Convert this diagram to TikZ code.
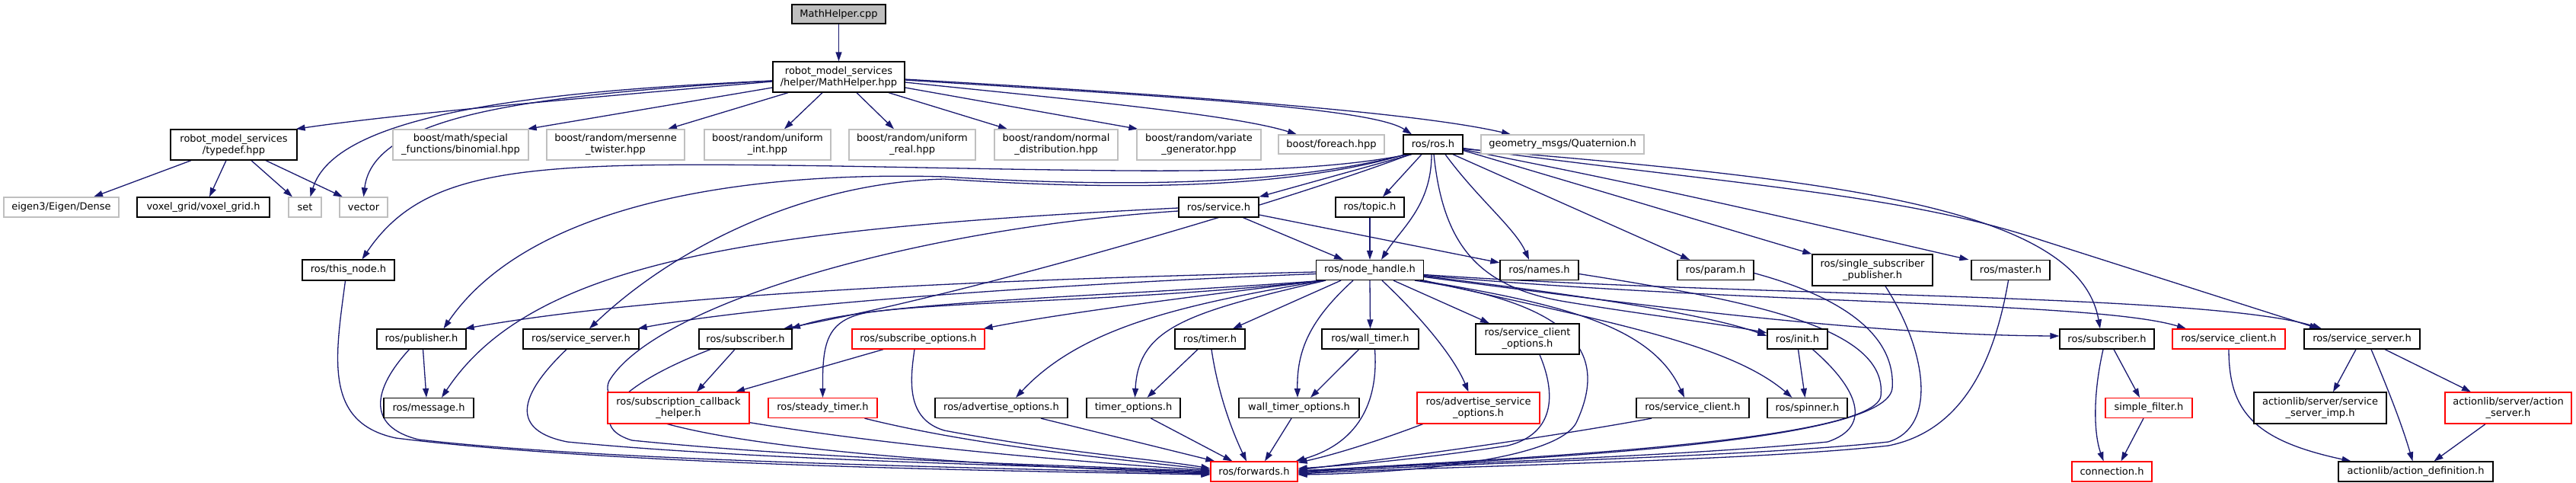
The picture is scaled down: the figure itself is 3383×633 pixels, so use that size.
\documentclass[tikz,border=0pt]{standalone}
\usepackage{fontspec}
\setmainfont{DejaVu Sans}
\usetikzlibrary{arrows.meta,backgrounds}
\definecolor{edgecol}{HTML}{191970}
\definecolor{grayb}{HTML}{BFBFBF}
\definecolor{redb}{HTML}{FF0000}
\begin{document}
\begin{tikzpicture}[x=1pt,y=-1pt,
  box/.style={draw=black, line width=1.3pt, rectangle, inner sep=0pt, align=center, font=\fontsize{13}{15}\selectfont, fill=white},
  doc/.style={box},
  undoc/.style={box, draw=grayb},
  trunc/.style={box, draw=redb},
  rootn/.style={box, fill=grayb},
  sz/.style 2 args={minimum width=#1pt, minimum height=#2pt},
  edge/.style={draw=edgecol, line width=1.3pt, -{Triangle[length=12pt,width=8pt]}}]
\useasboundingbox (0,0) rectangle (3383,633);
% nodes
\node[rootn, sz={123}{25}] (cpp) at (1101.5,18.5) {MathHelper.cpp};
\node[doc, sz={173}{40}] (hpp) at (1101.5,101) {robot\_model\_services\\/helper/MathHelper.hpp};
\node[doc, sz={166}{40}] (typedef) at (307,190) {robot\_model\_services\\/typedef.hpp};
\node[undoc, sz={178}{40}] (binom) at (605,190) {boost/math/special\\\_functions/binomial.hpp};
\node[undoc, sz={181}{40}] (mers) at (808.5,190) {boost/random/mersenne\\\_twister.hpp};
\node[undoc, sz={166}{40}] (uint) at (1008,190) {boost/random/uniform\\\_int.hpp};
\node[undoc, sz={166}{40}] (ureal) at (1198,190) {boost/random/uniform\\\_real.hpp};
\node[undoc, sz={162}{40}] (normal) at (1387,190) {boost/random/normal\\\_distribution.hpp};
\node[undoc, sz={163}{40}] (vargen) at (1574.5,190) {boost/random/variate\\\_generator.hpp};
\node[undoc, sz={139}{25}] (foreach) at (1748.5,189.5) {boost/foreach.hpp};
\node[doc, sz={78}{25}] (rosh) at (1882,189.5) {ros/ros.h};
\node[undoc, sz={214}{25}] (quat) at (2052,189.5) {geometry\_msgs/Quaternion.h};
\node[undoc, sz={151}{26}] (dense) at (80.5,272) {eigen3/Eigen/Dense};
\node[doc, sz={174}{26}] (voxel) at (267,272) {voxel\_grid/voxel\_grid.h};
\node[undoc, sz={43}{26}] (set) at (400.5,272) {set};
\node[undoc, sz={63}{26}] (vector) at (477.5,272) {vector};
\node[doc, sz={105}{26}] (service) at (1600.5,272) {ros/service.h};
\node[doc, sz={90}{26}] (topic) at (1799,272) {ros/topic.h};
\node[doc, sz={121}{27}] (thisnode) at (457.5,354.5) {ros/this\_node.h};
\node[doc, sz={141}{26}] (nh) at (1799,354.5) {ros/node\_handle.h};
\node[doc, sz={103}{26}] (names) at (2021.5,354.5) {ros/names.h};
\node[doc, sz={100}{26}] (param) at (2253,354.5) {ros/param.h};
\node[doc, sz={158}{41}] (ssp) at (2459,354.5) {ros/single\_subscriber\\\_publisher.h};
\node[doc, sz={103}{26}] (master) at (2640.5,354.5) {ros/master.h};
\node[doc, sz={117}{26}] (pub) at (553.5,445) {ros/publisher.h};
\node[doc, sz={152}{26}] (ssL) at (763,445) {ros/service\_server.h};
\node[doc, sz={122}{26}] (subL) at (979,445) {ros/subscriber.h};
\node[trunc, sz={174}{26}] (subopt) at (1206,445) {ros/subscribe\_options.h};
\node[doc, sz={92}{26}] (timer) at (1589,445) {ros/timer.h};
\node[doc, sz={127}{26}] (wtimer) at (1799.5,445) {ros/wall\_timer.h};
\node[doc, sz={136}{40}] (sco) at (2006,445) {ros/service\_client\\\_options.h};
\node[doc, sz={79}{26}] (init) at (2360.5,445) {ros/init.h};
\node[doc, sz={124}{26}] (subR) at (2767,445) {ros/subscriber.h};
\node[trunc, sz={148}{26}] (scR) at (2927,445) {ros/service\_client.h};
\node[doc, sz={152}{26}] (ssR) at (3102,445) {ros/service\_server.h};
\node[doc, sz={118}{26}] (msg) at (563,535.5) {ros/message.h};
\node[trunc, sz={186}{41}] (scbh) at (891,535.5) {ros/subscription\_callback\\\_helper.h};
\node[trunc, sz={143}{26}] (steady) at (1080.5,535.5) {ros/steady\_timer.h};
\node[doc, sz={174}{26}] (advopt) at (1315,535.5) {ros/advertise\_options.h};
\node[doc, sz={123}{26}] (topt) at (1488.5,535.5) {timer\_options.h};
\node[doc, sz={158}{26}] (wtopt) at (1706,535.5) {wall\_timer\_options.h};
\node[trunc, sz={161}{41}] (asopt) at (1941.5,535.5) {ros/advertise\_service\\\_options.h};
\node[doc, sz={148}{26}] (scL) at (2223,535.5) {ros/service\_client.h};
\node[doc, sz={105}{26}] (spinner) at (2373.5,535.5) {ros/spinner.h};
\node[trunc, sz={114}{26}] (sfilter) at (2822,535.5) {simple\_filter.h};
\node[doc, sz={174}{41}] (ssimp) at (3047,535.5) {actionlib/server/service\\\_server\_imp.h};
\node[trunc, sz={166}{41}] (aserver) at (3294,535.5) {actionlib/server/action\\\_server.h};
\node[trunc, sz={114}{26}] (fwd) at (1647,619) {ros/forwards.h};
\node[trunc, sz={105}{26}] (conn) at (2773.5,619) {connection.h};
\node[doc, sz={203}{26}] (adef) at (3172.5,619) {actionlib/action\_definition.h};
\begin{pgfonlayer}{background}
% MathHelper.cpp
\draw[edge] (cpp.south) -- (hpp.north);
% MathHelper.hpp
\draw[edge] ([yshift=-6pt]hpp.west) .. controls (750,130) and (520,150) .. ([xshift=-2pt]typedef.north east);
\draw[edge] ([yshift=-5pt]hpp.west) .. controls (700,120) and (440,150) .. ([xshift=7pt]set.north);
\draw[edge] ([yshift=-5pt]hpp.west) .. controls (700,125) and (490,150) .. (vector.north);
\draw[edge] ([yshift=-14pt]hpp.west) -- ([xshift=-2pt]binom.north east);
\draw[edge] ([xshift=-66.5pt]hpp.south) -- ([xshift=68.5pt]mers.north);
\draw[edge] ([xshift=-21.5pt]hpp.south) -- ([xshift=22pt]uint.north);
\draw[edge] ([xshift=23.5pt]hpp.south) -- ([xshift=-24pt]ureal.north);
\draw[edge] ([xshift=65.5pt]hpp.south) -- ([xshift=-64pt]normal.north);
\draw[edge] ([yshift=-14pt]hpp.east) -- ([xshift=2pt]vargen.north west);
\draw[edge] ([yshift=-7pt]hpp.east) .. controls (1400,130) and (1620,150) .. ([xshift=-45.5pt]foreach.north);
\draw[edge] ([yshift=-4pt]hpp.east) .. controls (1500,125) and (1800,140) .. ([xshift=-28pt]rosh.north);
\draw[edge] ([yshift=-3pt]hpp.east) .. controls (1500,122) and (1850,145) .. ([xshift=-68pt]quat.north);
% typedef
\draw[edge] ([xshift=-56pt]typedef.south) -- ([xshift=42.5pt]dense.north);
\draw[edge] ([xshift=-10pt]typedef.south) -- ([xshift=8pt]voxel.north);
\draw[edge] ([xshift=23pt]typedef.south) -- ([xshift=-16.5pt]set.north);
\draw[edge] ([xshift=42pt]typedef.south) -- ([xshift=-27.5pt]vector.north);
% ros.h
\draw[edge] ([xshift=-32pt]rosh.south) .. controls (1700,232) and (1500,225) .. (1100,218) .. controls (700,212) and (560,215) .. ([xshift=18pt]thisnode.north);
\draw[edge] ([xshift=-35pt]rosh.south) .. controls (1700,240) and (1500,248) .. (1240,232) .. controls (1000,225) and (700,260) .. ([xshift=29pt]pub.north);
\draw[edge] ([xshift=-36pt]rosh.south) .. controls (1700,245) and (1500,252) .. (1240,235) .. controls (1050,240) and (880,330) .. ([xshift=11pt]ssL.north);
\draw[edge] ([xshift=-30pt]rosh.south) .. controls (1700,260) and (1300,380) .. ([xshift=50pt]subL.north);
\draw[edge] ([xshift=-28pt]rosh.south) -- (service.north east);
\draw[edge] ([xshift=-15pt]rosh.south) -- ([xshift=17pt]topic.north);
\draw[edge] ([xshift=-2pt]rosh.south) .. controls (1880,270) and (1840,300) .. ([xshift=15pt]nh.north);
\draw[edge] ([xshift=1pt]rosh.south) .. controls (1895,320) and (1940,375) .. (2050,395) .. controls (2150,412) and (2260,425) .. ([yshift=8pt]init.west);
\draw[edge] ([xshift=16pt]rosh.south) .. controls (1940,260) and (1990,300) .. ([xshift=-13.5pt]names.north);
\draw[edge] ([xshift=26pt]rosh.south) -- ([xshift=-34pt]param.north);
\draw[edge] ([yshift=-8pt]rosh.east) .. controls (2100,250) and (2300,310) .. (ssp.north west);
\draw[edge] ([yshift=-7pt]rosh.east) .. controls (2200,250) and (2450,310) .. ([xshift=-3pt]master.north west);
\draw[edge] ([yshift=-6pt]rosh.east) .. controls (2400,235) and (2730,270) .. ([xshift=-9pt]subR.north);
\draw[edge] ([yshift=-5pt]rosh.east) .. controls (2300,245) and (2500,255) .. (2683,316) -- ([xshift=-57pt]ssR.north);
% service.h
\draw[edge] ([xshift=32pt]service.south) -- ([xshift=-35pt]nh.north);
\draw[edge] ([yshift=-10pt]service.east) -- ([yshift=-4pt]names.north west);
\draw[edge] ([yshift=-1pt]service.west) .. controls (1000,300) and (700,340) .. ([xshift=17pt]msg.north);
\draw[edge] ([yshift=-5pt]service.west) .. controls (1200,300) and (860,400) .. (800,500) .. controls (760,585) and (1300,612) .. ([yshift=-2pt]fwd.west);
% topic.h
\draw[edge] (topic.south) -- (nh.north);
% node_handle.h
\draw[edge] ([yshift=-2.5pt]nh.west) .. controls (1400,365) and (900,380) .. ([xshift=-2pt]pub.north east);
\draw[edge] ([yshift=-5pt]nh.west) .. controls (1400,372) and (1000,400) .. ([xshift=-2pt]ssL.north east);
\draw[edge] ([xshift=-60pt]nh.south) .. controls (1450,390) and (1150,395) .. ([xshift=60pt]subL.north);
\draw[edge] ([xshift=-62pt]nh.south) .. controls (1600,385) and (1400,410) .. ([xshift=-2pt]subopt.north east);
\draw[edge] ([xshift=-63pt]nh.south) .. controls (1500,395) and (1250,395) .. (1140,410) .. controls (1085,420) and (1080,450) .. (steady.north);
\draw[edge] ([xshift=-60pt]nh.south) .. controls (1550,400) and (1420,430) .. ([xshift=19pt]advopt.north);
\draw[edge] ([xshift=-58pt]nh.south) .. controls (1560,410) and (1495,430) .. ([xshift=2pt]topt.north);
\draw[edge] ([xshift=-38pt]nh.south) -- ([xshift=30pt]timer.north);
\draw[edge] ([xshift=-22pt]nh.south) .. controls (1720,420) and (1703,460) .. ([xshift=-2pt]wtopt.north);
\draw[edge] (nh.south) -- (wtimer.north);
\draw[edge] ([xshift=16pt]nh.south) .. controls (1870,420) and (1910,470) .. ([xshift=-13pt]asopt.north);
\draw[edge] ([xshift=31pt]nh.south) -- ([xshift=-50pt]sco.north);
\draw[edge] ([xshift=59pt]nh.south) .. controls (2080,400) and (2110,470) .. (2070,555) .. controls (2040,610) and (1800,622) .. ([yshift=-4pt]fwd.east);
\draw[edge] ([xshift=66pt]nh.south) .. controls (2060,400) and (2170,430) .. ([xshift=-11pt]scL.north);
\draw[edge] (nh.south east) .. controls (2100,420) and (2270,450) .. ([xshift=-20pt]spinner.north);
\draw[edge] ([yshift=-8pt]nh.east) .. controls (2100,390) and (2250,415) .. ([yshift=4pt]init.west);
\draw[edge] ([yshift=-9pt]nh.east) .. controls (2150,400) and (2450,440) .. ([yshift=4pt]subR.west);
\draw[edge] ([yshift=-7pt]nh.east) .. controls (2300,400) and (2750,395) .. ([xshift=-56pt]scR.north);
\draw[edge] ([yshift=-6pt]nh.east) .. controls (2300,390) and (2900,385) .. ([xshift=-53pt]ssR.north);
% short edges
\draw[edge] ([xshift=2pt]pub.south) -- ([xshift=-3pt]msg.north);
\draw[edge] ([xshift=-14pt]subL.south) -- ([xshift=24pt]scbh.north);
\draw[edge] ([xshift=-46pt]subopt.south) -- ([xshift=75pt]scbh.north);
\draw[edge] ([xshift=-16pt]timer.south) -- ([xshift=18pt]topt.north);
\draw[edge] ([xshift=-15pt]wtimer.south) -- ([xshift=15pt]wtopt.north);
\draw[edge] ([xshift=1pt]init.south) -- ([xshift=-3pt]spinner.north);
\draw[edge] ([xshift=9pt]subR.south) -- ([xshift=-12pt]sfilter.north);
\draw[edge] ([xshift=-5pt]subR.south) .. controls (2748,520) and (2750,570) .. ([xshift=-11pt]conn.north);
\draw[edge] ([xshift=-7pt]sfilter.south) -- ([xshift=12pt]conn.north);
\draw[edge] (scR.south) .. controls (2927,540) and (2960,578) .. ([xshift=-85pt]adef.north);
\draw[edge] ([xshift=-8pt]ssR.south) -- ([xshift=17pt]ssimp.north);
\draw[edge] ([xshift=12pt]ssR.south) .. controls (3140,520) and (3155,560) .. ([xshift=-4pt]adef.north);
\draw[edge] ([xshift=30pt]ssR.south) -- ([xshift=-49pt]aserver.north);
\draw[edge] ([xshift=-30pt]aserver.south) -- ([xshift=24pt]adef.north);
% into forwards.h from the left
\draw[edge] ([xshift=-4pt]thisnode.south) .. controls (440,470) and (425,555) .. (520,575) .. controls (800,610) and (1300,618) .. ([yshift=-4pt]fwd.west);
\draw[edge] ([xshift=-16pt]pub.south) .. controls (490,510) and (480,560) .. (550,577) .. controls (800,606) and (1300,614) .. ([yshift=-3pt]fwd.west);
\draw[edge] ([xshift=-19pt]ssL.south) .. controls (680,520) and (670,565) .. (745,580) .. controls (1000,605) and (1400,612) .. ([yshift=-1pt]fwd.west);
\draw[edge] ([xshift=-46pt]subL.south) .. controls (800,510) and (770,560) .. (830,578) .. controls (1100,605) and (1400,610) .. (fwd.west);
\draw[edge] ([yshift=2pt]scbh.south east) .. controls (1200,590) and (1450,608) .. ([yshift=1pt]fwd.west);
\draw[edge] ([xshift=55pt]steady.south) .. controls (1300,590) and (1500,605) .. ([yshift=2pt]fwd.west);
\draw[edge] ([xshift=-5pt]subopt.south) .. controls (1195,500) and (1190,550) .. (1240,565) .. controls (1400,595) and (1520,603) .. ([yshift=4pt]fwd.west);
\draw[edge] ([xshift=52pt]advopt.south) -- ([xshift=6pt]fwd.north west);
\draw[edge] ([xshift=23pt]topt.south) -- ([xshift=29pt]fwd.north west);
\draw[edge] ([xshift=2pt]timer.south) .. controls (1600,520) and (1620,570) .. ([xshift=-10pt]fwd.north);
\draw[edge] ([xshift=-10pt]wtopt.south) -- ([xshift=14pt]fwd.north);
\draw[edge] ([xshift=6pt]wtimer.south) .. controls (1810,520) and (1790,580) .. ([xshift=-3pt]fwd.north east);
\draw[edge] ([xshift=-73pt]asopt.south) .. controls (1820,575) and (1760,595) .. ([yshift=-2pt]fwd.north east);
% into forwards.h from the right
\draw[edge] ([xshift=16pt]sco.south) .. controls (2045,520) and (2040,570) .. (1980,585) .. controls (1850,605) and (1750,612) .. ([yshift=4pt]fwd.east);
\draw[edge] ([xshift=-54pt]scL.south) .. controls (2000,580) and (1800,605) .. ([yshift=2pt]fwd.east);
\draw[edge] ([yshift=-5pt]names.east) .. controls (2300,395) and (2480,430) .. (2470,520) .. controls (2460,585) and (1900,605) .. (fwd.east);
\draw[edge] ([yshift=-4pt]param.east) .. controls (2420,390) and (2490,440) .. (2485,510) .. controls (2475,590) and (1900,605) .. ([yshift=-1pt]fwd.east);
\draw[edge] ([xshift=20pt]init.south) .. controls (2440,510) and (2460,560) .. (2400,580) .. controls (2200,600) and (1850,610) .. ([yshift=1pt]fwd.east);
\draw[edge] ([xshift=17pt]ssp.south) .. controls (2530,460) and (2545,560) .. (2480,580) .. controls (2300,600) and (1900,608) .. ([yshift=-2pt]fwd.east);
\draw[edge] ([xshift=-3pt]master.south) .. controls (2620,470) and (2580,565) .. (2480,585) .. controls (2300,605) and (1900,612) .. ([yshift=-3pt]fwd.east);
\end{pgfonlayer}
\end{tikzpicture}
\end{document}
